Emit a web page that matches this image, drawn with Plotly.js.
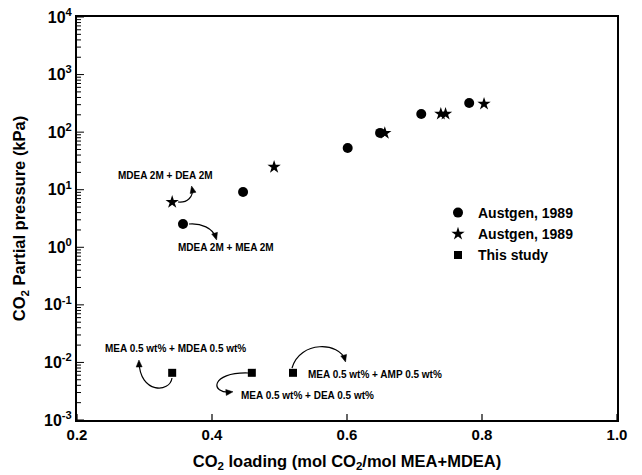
<!DOCTYPE html>
<html>
<head>
<meta charset="utf-8">
<script src="https://cdn.plot.ly/plotly-3.0.1.min.js"></script>
<style>html,body{margin:0;padding:0;background:#fff;}#chart{width:642px;height:475px;}</style>
</head>
<body>
<div id="chart"></div>
<script>
// ---- data ----
var circleX = [0.357, 0.446, 0.601, 0.649, 0.710, 0.781];
var circleY = [2.54, 9.1, 53, 97, 207, 321];
var starX = [0.341, 0.492, 0.656, 0.739, 0.746, 0.803];
var starY = [6.1, 24.8, 96, 207, 207, 309];
var squareX = [0.341, 0.459, 0.520];
var squareY = [0.0066, 0.0066, 0.0066];
var seriesNames = ["Austgen, 1989", "Austgen, 1989", "This study"];
var xTickVals = [0.2, 0.4, 0.6, 0.8, 1.0];
var xTickText = ["0.2", "0.4", "0.6", "0.8", "1.0"];
var yTickVals = [0.001, 0.01, 0.1, 1, 10, 100, 1000, 10000];
var yTickText = ["10<sup>-3</sup>", "10<sup>-2</sup>", "10<sup>-1</sup>", "10<sup>0</sup>",
                 "10<sup>1</sup>", "10<sup>2</sup>", "10<sup>3</sup>", "10<sup>4</sup>"];
var noteTexts = ["MDEA 2M + DEA 2M", "MDEA 2M + MEA 2M", "MEA 0.5 wt% + MDEA 0.5 wt%",
                 "MEA 0.5 wt% + DEA 0.5 wt%", "MEA 0.5 wt% + AMP 0.5 wt%"];

// ---- layout geometry (pixels) ----
var L = 77, R = 617, T = 17, B = 420;
var W = R - L, H = B - T;
var X0 = 0.2, X1 = 1.0, Y0 = -3, Y1 = 4;
function px(x){ return ((x - L) / W).toFixed(5); }
function py(y){ return ((B - y) / H).toFixed(5); }

var FONT = "Arial, 'Liberation Sans', sans-serif";
var shapes = [];

// axis tick marks (inside), drawn as paper-space paths
var yPath = '';
yTickVals.forEach(function(v, i){
  var p = ((Math.log10(v) - Y0) / (Y1 - Y0)).toFixed(5);
  yPath += 'M0,' + p + ' L' + (7 / W).toFixed(5) + ',' + p + ' ';
  if (i < yTickVals.length - 1) {
    for (var k = 2; k <= 9; k++) {
      var q = ((Math.log10(v * k) - Y0) / (Y1 - Y0)).toFixed(5);
      yPath += 'M0,' + q + ' L' + (4 / W).toFixed(5) + ',' + q + ' ';
    }
  }
});
shapes.push({type:'path', xref:'paper', yref:'paper', path:yPath, line:{color:'black', width:1}});
var xPath = '';
xTickVals.forEach(function(v){
  var p = ((v - X0) / (X1 - X0)).toFixed(5);
  xPath += 'M' + p + ',0 L' + p + ',' + (6 / H).toFixed(5) + ' ';
});
shapes.push({type:'path', xref:'paper', yref:'paper', path:xPath, line:{color:'black', width:1.2}});

function arrow(p0, c1, c2, p1){
  shapes.push({type:'path', xref:'paper', yref:'paper',
    path: 'M' + px(p0[0]) + ',' + py(p0[1]) + ' C' + px(c1[0]) + ',' + py(c1[1]) + ' ' +
          px(c2[0]) + ',' + py(c2[1]) + ' ' + px(p1[0]) + ',' + py(p1[1]),
    line:{color:'black', width:1.2}});
  var dx = p1[0]-c2[0], dy = p1[1]-c2[1], len = Math.sqrt(dx*dx+dy*dy);
  dx/=len; dy/=len;
  var tip = [p1[0]+dx*2, p1[1]+dy*2];
  var base = [tip[0]-dx*7, tip[1]-dy*7];
  var a = [base[0]-dy*3, base[1]+dx*3], b = [base[0]+dy*3, base[1]-dx*3];
  shapes.push({type:'path', xref:'paper', yref:'paper',
    path: 'M' + px(tip[0]) + ',' + py(tip[1]) + ' L' + px(a[0]) + ',' + py(a[1]) +
          ' L' + px(b[0]) + ',' + py(b[1]) + ' Z',
    fillcolor:'black', line:{color:'black', width:0.5}});
}
arrow([178,202],[187,203],[194,197],[192,188]);
arrow([189,224],[201,223],[213,228],[216,238]);
arrow([172,378],[170,393],[140,394],[139,362]);
arrow([248,373],[210,372],[210,394],[231,392]);
arrow([292,368],[300,340],[340,342],[345,360]);

var notePos = [[166,175],[226,248],[176,349],[307,395],[375,374]];
var annotations = noteTexts.map(function(t,i){
  return {xref:'paper', yref:'paper', x:+px(notePos[i][0]), y:+py(notePos[i][1]),
    xanchor:'center', yanchor:'middle', showarrow:false, text:'<b>'+t+'</b>',
    font:{family:FONT, size:10, color:'black'}};
});

var traces = [
  {x:circleX, y:circleY, name:seriesNames[0], mode:'markers', type:'scatter',
   marker:{symbol:'circle', size:10, color:'black'}},
  {x:starX, y:starY, name:seriesNames[1], mode:'markers', type:'scatter',
   marker:{symbol:'star', size:10, color:'black'}},
  {x:squareX, y:squareY, name:seriesNames[2], mode:'markers', type:'scatter',
   marker:{symbol:'square', size:8, color:'black'}}
];

var layout = {
  width:642, height:475,
  margin:{l:L, r:642-R, t:T, b:475-B, pad:0},
  paper_bgcolor:'white', plot_bgcolor:'white',
  font:{family:FONT, color:'black'},
  showlegend:true,
  legend:{x:+px(438), y:+py(197), xanchor:'left', yanchor:'top',
    bgcolor:'rgba(0,0,0,0)', font:{family:FONT, size:14, color:'black', weight:'bold'},
    tracegroupgap:0, itemwidth:30},
  xaxis:{type:'linear', range:[X0, X1], tickvals:xTickVals, ticktext:xTickText,
    ticks:'', showline:true, linecolor:'black', linewidth:2, mirror:true, showgrid:false, zeroline:false,
    tickfont:{family:FONT, size:15, weight:'bold'},
    title:{text:'<b>CO<sub>2</sub> loading (mol CO<sub>2</sub>/mol MEA+MDEA)</b>',
      font:{family:FONT, size:16.5}, standoff:13}},
  yaxis:{type:'log', range:[Y0, Y1], tickvals:yTickVals, ticktext:yTickText,
    ticks:'', showline:true, linecolor:'black', linewidth:2, mirror:true, showgrid:false, zeroline:false,
    tickfont:{family:FONT, size:16, weight:'bold'},
    title:{text:'<b>CO<sub>2</sub> Partial pressure (kPa)</b>',
      font:{family:FONT, size:16.5}, standoff:14}},
  shapes:shapes,
  annotations:annotations
};
Plotly.newPlot('chart', traces, layout, {staticPlot:true, displayModeBar:false});
</script>
</body>
</html>
